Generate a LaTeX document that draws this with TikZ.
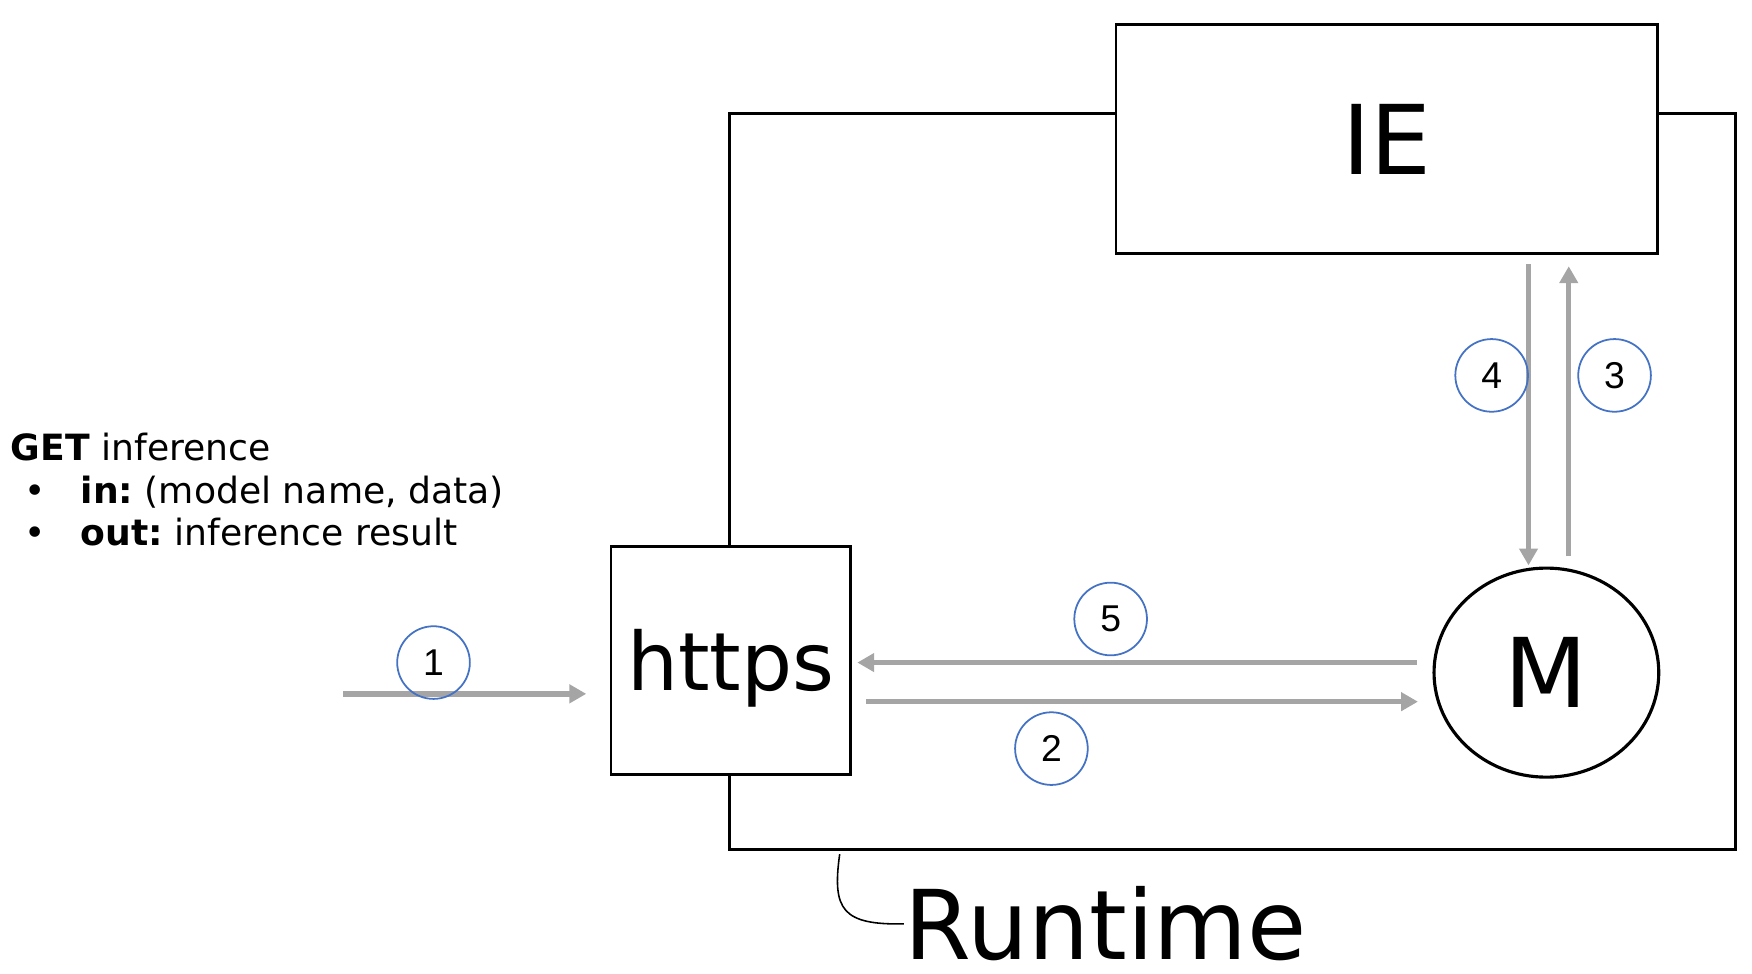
\documentclass[tikz,border=0pt]{standalone}
\usepackage{fontspec}
\setmainfont{DejaVu Sans}
\newfontfamily\numfont{Liberation Sans}
\usetikzlibrary{arrows.meta,calc,shapes.geometric}

\definecolor{flowgray}{HTML}{A5A5A5}
\definecolor{stepblue}{HTML}{4472C4}

\begin{document}
\frenchspacing
\begin{tikzpicture}[x=0.01cm,y=-0.01cm,>={Triangle[length=4.3pt,width=4.6pt]}]
	
	% ------------------------------------------------------------
	% Styles
	% ------------------------------------------------------------
	\tikzset{
		box/.style={draw=black,fill=white,line width=0.7pt,inner sep=0pt},
		flow/.style={->,draw=flowgray,line width=1.35pt},
		numc/.style={circle,draw=stepblue,line width=0.45pt,minimum size=0.65cm,
			inner sep=0pt,font=\numfont\fontsize{9.5}{11}\selectfont},
		big/.style={font=\fontsize{24.5}{29}\selectfont},
		callout/.style={line width=0.4pt}
	}
	
	\useasboundingbox (0,0) rectangle (1568,871);
	
	% ============================================================
	% Runtime frame with IE, https and M
	% ============================================================
	\node[box,fill=none,minimum width=9cm,minimum height=6.58cm] (runtime) at (1103,431) {};
	
	\node[box,minimum width=4.84cm,minimum height=2.05cm,big] (ie) at (1241,124.5) {IE};
	\node[box,minimum width=2.14cm,minimum height=2.04cm,text depth=0pt,
		font=\fontsize{20.5}{24}\selectfont] (https) at (654,591) {https};
	\node[box,ellipse,line width=0.8pt,minimum width=2.01cm,minimum height=1.87cm,big]
		(model) at (1384,602) {\raisebox{-1pt}{M}};
	
	% Request text on the left
	\node[anchor=base west,align=left,inner sep=0pt,
		font=\fontsize{9.2}{10.8}\selectfont] (api) at (9,488.5)
	{\textbf{GET} inference\\
		\makebox[17.8pt][l]{\hspace*{3.5pt}\textbullet}\textbf{in:} (model name, data)\\
		\makebox[17.8pt][l]{\hspace*{3.5pt}\textbullet}\textbf{out:} inference result};
	
	% ============================================================
	% Arrows between the parts
	% ============================================================
	\coordinate (client) at (307,621);
	\draw[flow,shorten >=0.21cm] (client) -- (client -| https.west);
	
	\draw[flow,shorten <=0.13cm,shorten >=0.13cm] ($(https.east)+(0,37)$) -- ($(model.west)+(0,26)$);
	\draw[flow,shorten <=0.14cm,shorten >=0.05cm] ($(model.west)+(0,-9)$) -- ($(https.east)+(0,2)$);
	
	\draw[flow,shorten <=0.08cm,shorten >=0.01cm] ($(ie.south)+(127,0)$) -- ($(model.north)+(-16,0)$);
	\draw[flow,shorten <=0.09cm,shorten >=0.10cm] ($(model.north)+(20,0)$) -- ($(ie.south)+(163,0)$);
	
	% Step numbers
	\node[numc] (n1) at (388,593) {1};
	\node[numc] (n2) at (941,670) {2};
	\node[numc] (n3) at (1445,336) {3};
	\node[numc] (n4) at (1335,336) {4};
	\node[numc] (n5) at (994,554) {5};
	
	% Runtime label with callout line
	\node[anchor=base west,inner sep=0pt,big] (runtimelbl) at (809,859) {Runtime};
	\draw[callout] ($(runtime.south west)+(100,3)$) .. controls +(-7,50) and +(-55,1) .. (runtimelbl.west);
	
\end{tikzpicture}
\end{document}
